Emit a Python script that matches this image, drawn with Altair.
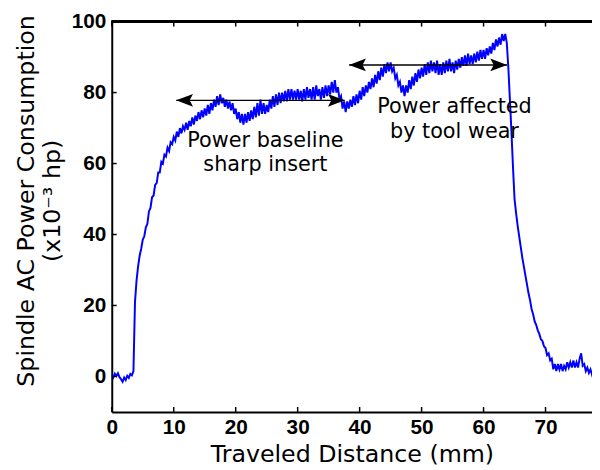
import altair as alt
import pandas as pd

# ---- data (x grid every 0.25 mm from 0 to 78 mm) ----
x_start = 0.0
x_step = 0.25
power_rows = [
    [0.5, -0.3, 0.8, 0.1, 0.9, -0.2, -0.8, -1.5, -0.3, -1.0, 0.2, -0.4, 0.7, 0.3, 1.5, 21, 27, 31, 34, 36],
    [38.5, 39.5, 42, 43, 46.5, 47.5, 50.5, 51, 54, 54.5, 57.5, 57.5, 60.5, 60, 62.5, 62, 64.5, 63.5, 66, 65.5],
    [67.5, 66.5, 69, 67.5, 70, 68.5, 70.5, 69.5, 71.5, 69.5, 72, 70.5, 73, 71, 73.5, 72, 74.5, 72.5, 75, 73],
    [75.5, 73.5, 76.5, 74, 77, 75, 78, 76, 79, 76.5, 79.5, 77, 78.5, 76, 78, 75.5, 77.5, 75, 77, 74],
    [75.5, 72.5, 74.5, 71.5, 74, 71, 74, 71.5, 74.5, 72, 75, 72.5, 76, 73, 77, 73.5, 78, 74, 77, 74],
    [76.5, 74.5, 78, 75.5, 79, 76, 79.5, 76.5, 80, 77, 80, 77.5, 80.5, 77.5, 81, 78, 81, 78, 80.5, 78],
    [81, 78, 80.5, 77.5, 81, 78, 81.5, 78.5, 81, 78, 81.5, 78, 82, 79, 81, 78, 81.5, 78.5, 82, 79],
    [82, 79.5, 83, 80, 83.5, 80, 81.5, 78, 79, 75.5, 77.5, 74.5, 77.5, 75.5, 78, 76, 79, 76.5, 79.5, 77],
    [80.5, 78, 81.5, 79, 82, 80, 83, 81, 84, 81.5, 85, 82.5, 86, 83.5, 87, 84.5, 88, 85.5, 88.5, 86],
    [88.5, 86, 87, 84, 85, 82, 83, 80, 82, 79, 82, 80, 83.5, 81, 84.5, 82, 85.5, 83, 86.5, 84],
    [87, 84.5, 88, 85, 88.5, 85.5, 89, 86, 88.5, 85.5, 89, 85, 88, 85, 88.5, 85.5, 89, 86, 89.5, 86],
    [88.5, 85.5, 89, 86.5, 89.5, 87, 90, 87.5, 90.5, 87.5, 91, 88, 90.5, 88, 91, 88.5, 91.5, 89, 92, 89.5],
    [92, 89.5, 92.5, 90.5, 93, 91, 94, 92, 95, 93, 95.5, 93.5, 96.5, 94.5, 96.5, 94, 87, 78, 69, 59],
    [50, 46, 42.5, 39.5, 36.5, 33.5, 31, 28.5, 26, 23.5, 21.5, 19, 17.5, 15.5, 14.5, 13, 12, 10.5, 10, 8.5],
    [8, 6, 6.5, 4.5, 5, 2, 3.5, 1.5, 3.5, 2, 3.5, 1.5, 3, 2, 4, 2.5, 4, 2.5, 4.5, 2.5],
    [4, 2.5, 5, 6.5, 3, 3.5, 1.5, 2.5, 1, 2, 0.5, 1.5, 1],
]
power = [v for row in power_rows for v in row]
distance = [round(x_start + i * x_step, 2) for i in range(len(power))]

x_ticks = [0, 10, 20, 30, 40, 50, 60, 70]
y_ticks = [0, 20, 40, 60, 80, 100]

arrow_x1 = [10.4, 38.3]
arrow_x2 = [37.6, 63.8]
arrow_y = [77.8, 87.8]

note_x = [24.8, 55.3]
note_y = [66.4, 75.8]
note_text = ["Power baseline\nsharp insert", "Power affected\nby tool wear"]

X_DOMAIN = [0, 77.5]
Y_DOMAIN = [-10, 100]
W, H = 486, 395

xs = alt.Scale(domain=X_DOMAIN, nice=False, zero=False)
ys = alt.Scale(domain=Y_DOMAIN, nice=False, zero=False)

df = pd.DataFrame({"x": distance, "y": power})
tick_x_df = pd.DataFrame({"x": x_ticks})
tick_y_df = pd.DataFrame({"y": y_ticks})
arrow_df = pd.DataFrame({"x": arrow_x1, "x2": arrow_x2, "y": arrow_y})
note_df = pd.DataFrame({"x": note_x, "y": note_y, "t": note_text})

x_axis = alt.Axis(
    values=x_ticks, title="Traveled Distance (mm)", ticks=False, tickSize=0, grid=False,
    domainColor="black", domainWidth=2, labelFont="Liberation Sans", labelFontWeight="bold",
    labelFontSize=21, labelColor="black", labelPadding=5, labelFlush=False, labelOverlap=False,
    titleFont="DejaVu Sans", titleFontSize=24, titleFontWeight="normal", titleColor="black",
    titleY=43, titleBaseline="middle",
)
y_axis = alt.Axis(
    values=y_ticks, title=["Spindle AC Power Consumption", "(x10\u207b\u00b3 hp)"], ticks=False,
    tickSize=0, grid=False, domainColor="black", domainWidth=2, labelFont="Liberation Sans",
    labelFontWeight="bold", labelFontSize=21, labelColor="black", labelPadding=6,
    labelOverlap=False, titleFont="DejaVu Sans", titleFontSize=24, titleFontWeight="normal",
    titleColor="black", titleAngle=270, titleAlign="center", titleBaseline="middle",
    titleX=-86, titleY=181, titleLineHeight=26,
)

X = lambda f: alt.X(f, scale=xs, axis=x_axis)
Y = lambda f: alt.Y(f, scale=ys, axis=y_axis)

line = alt.Chart(df).mark_line(color="#0000ff", strokeWidth=2, clip=True).encode(
    x=X("x:Q"), y=Y("y:Q"),
)

top_border = alt.Chart(tick_x_df).mark_rule(color="black", strokeWidth=2).encode(
    x=alt.value(0), x2=alt.value(W), y=alt.value(0)
)
bottom_ticks = alt.Chart(tick_x_df).mark_rule(color="black", strokeWidth=1.5).encode(
    x=X("x:Q"), y=alt.value(H - 5), y2=alt.value(H)
)
top_ticks = alt.Chart(tick_x_df).mark_rule(color="black", strokeWidth=1.5).encode(
    x=X("x:Q"), y=alt.value(0), y2=alt.value(5)
)
left_ticks = alt.Chart(tick_y_df).mark_rule(color="black", strokeWidth=1.5).encode(
    y=Y("y:Q"), x=alt.value(0), x2=alt.value(5)
)

arrow_lines = alt.Chart(arrow_df).mark_rule(color="black", strokeWidth=1.5).encode(
    x=X("x:Q"), x2="x2:Q", y=Y("y:Q")
)
left_heads = alt.Chart(arrow_df).mark_point(
    shape="M0,0 L2,-0.75 L1.6,0 L2,0.75 Z", filled=True, color="black", opacity=1, size=289
).encode(x=X("x:Q"), y=Y("y:Q"))
right_heads = alt.Chart(arrow_df).mark_point(
    shape="M0,0 L-2,-0.75 L-1.6,0 L-2,0.75 Z", filled=True, color="black", opacity=1, size=289
).encode(x=X("x2:Q"), y=Y("y:Q"))

notes = alt.Chart(note_df).mark_text(
    font="DejaVu Sans", fontSize=21, color="black", align="center", baseline="middle",
    lineBreak="\n", lineHeight=25,
).encode(x=X("x:Q"), y=Y("y:Q"), text="t:N")

chart = alt.layer(
    line, top_border, bottom_ticks, top_ticks, left_ticks, arrow_lines, left_heads, right_heads, notes
).properties(
    width=W, height=H,
    autosize=alt.AutoSizeParams(type="none"),
    padding={"left": 105, "top": 11, "right": 0, "bottom": 55},
    background="white",
).configure_view(stroke=None)

chart.save("out.html", embed_options={"renderer": "svg", "actions": False})
